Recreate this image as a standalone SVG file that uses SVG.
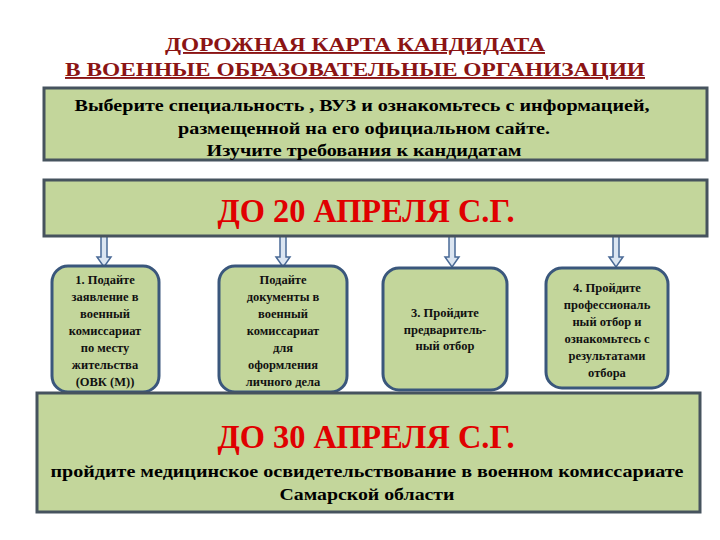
<svg xmlns="http://www.w3.org/2000/svg" width="720" height="540" viewBox="0 0 720 540">
<style>
.t{font-family:"Liberation Serif","DejaVu Serif","Times New Roman",serif;font-weight:bold;text-anchor:middle}
.box{fill:#c3d69b;stroke:#46535e;stroke-width:3}
.rb{fill:#c3d69b;stroke:#3a577c;stroke-width:3}
.ar{fill:#dbe5f1;stroke:#4a6a96;stroke-width:1.5}
.red{fill:#e00000;font-size:33px}
.s{font-size:12.5px;fill:#111}
</style>
<rect width="720" height="540" fill="#fff"/>
<g id="title">
<text class="t" x="355" y="51" font-size="19" fill="#8b1414" text-decoration="underline" textLength="380" lengthAdjust="spacingAndGlyphs">ДОРОЖНАЯ КАРТА КАНДИДАТА</text>
<text class="t" x="355" y="76" font-size="19" fill="#8b1414" text-decoration="underline" textLength="580" lengthAdjust="spacingAndGlyphs">В ВОЕННЫЕ ОБРАЗОВАТЕЛЬНЫЕ ОРГАНИЗАЦИИ</text>
</g>
<g id="connectors">
<path class="ar" d="M101 235h6v22h4l-7 10l-7-10h4z"/>
<path class="ar" d="M280 235h6v22h4l-7 10l-7-10h4z"/>
<path class="ar" d="M449 235h6v22h4l-7 10l-7-10h4z"/>
<path class="ar" d="M613 235h6v22h4l-7 10l-7-10h4z"/>
</g>
<g id="step0">
<rect class="box" x="44" y="88" width="663" height="72"/>
<text class="t" x="362" y="111" font-size="17" textLength="575" lengthAdjust="spacingAndGlyphs">Выберите специальность , ВУЗ и ознакомьтесь с информацией,</text>
<text class="t" x="364" y="134" font-size="17" textLength="372" lengthAdjust="spacingAndGlyphs">размещенной на его официальном сайте.</text>
<text class="t" x="364" y="156" font-size="17" textLength="315" lengthAdjust="spacingAndGlyphs">Изучите требования к кандидатам</text>
</g>
<g id="deadline1">
<rect class="box" x="44" y="180" width="663" height="56"/>
<text class="t red" x="366" y="222" textLength="297" lengthAdjust="spacingAndGlyphs">ДО 20 АПРЕЛЯ С.Г.</text>
</g>
<g id="n1">
<rect class="rb" x="52" y="266" width="107" height="126" rx="16"/>
<text class="t s" x="105" y="284">1. Подайте</text>
<text class="t s" x="105" y="301">заявление в</text>
<text class="t s" x="105" y="318">военный</text>
<text class="t s" x="105" y="335">комиссариат</text>
<text class="t s" x="105" y="352">по месту</text>
<text class="t s" x="105" y="369">жительства</text>
<text class="t s" x="105" y="386">(ОВК (М))</text>
</g>
<g id="n2">
<rect class="rb" x="219" y="266" width="128" height="126" rx="16"/>
<text class="t s" x="283" y="284">Подайте</text>
<text class="t s" x="283" y="301">документы в</text>
<text class="t s" x="283" y="318">военный</text>
<text class="t s" x="283" y="335">комиссариат</text>
<text class="t s" x="283" y="352">для</text>
<text class="t s" x="283" y="369">оформления</text>
<text class="t s" x="283" y="386">личного дела</text>
</g>
<g id="n3">
<rect class="rb" x="383" y="268" width="124" height="122" rx="16"/>
<text class="t s" x="445" y="317">3. Пройдите</text>
<text class="t s" x="445" y="334">предваритель-</text>
<text class="t s" x="445" y="350">ный отбор</text>
</g>
<g id="n4">
<rect class="rb" x="546" y="268" width="122" height="120" rx="16"/>
<text class="t s" x="607" y="292">4. Пройдите</text>
<text class="t s" x="607" y="309">профессиональ</text>
<text class="t s" x="607" y="326">ный отбор и</text>
<text class="t s" x="607" y="343">ознакомьтесь с</text>
<text class="t s" x="607" y="360">результатами</text>
<text class="t s" x="607" y="377">отбора</text>
</g>
<g id="deadline2">
<rect class="box" x="37" y="393" width="663" height="119"/>
<text class="t red" x="366" y="448" textLength="297" lengthAdjust="spacingAndGlyphs">ДО 30 АПРЕЛЯ С.Г.</text>
<text class="t" x="367" y="477" font-size="17" textLength="633" lengthAdjust="spacingAndGlyphs">пройдите медицинское освидетельствование в военном комиссариате</text>
<text class="t" x="367" y="500" font-size="17" textLength="175" lengthAdjust="spacingAndGlyphs">Самарской области</text>
</g>
</svg>
